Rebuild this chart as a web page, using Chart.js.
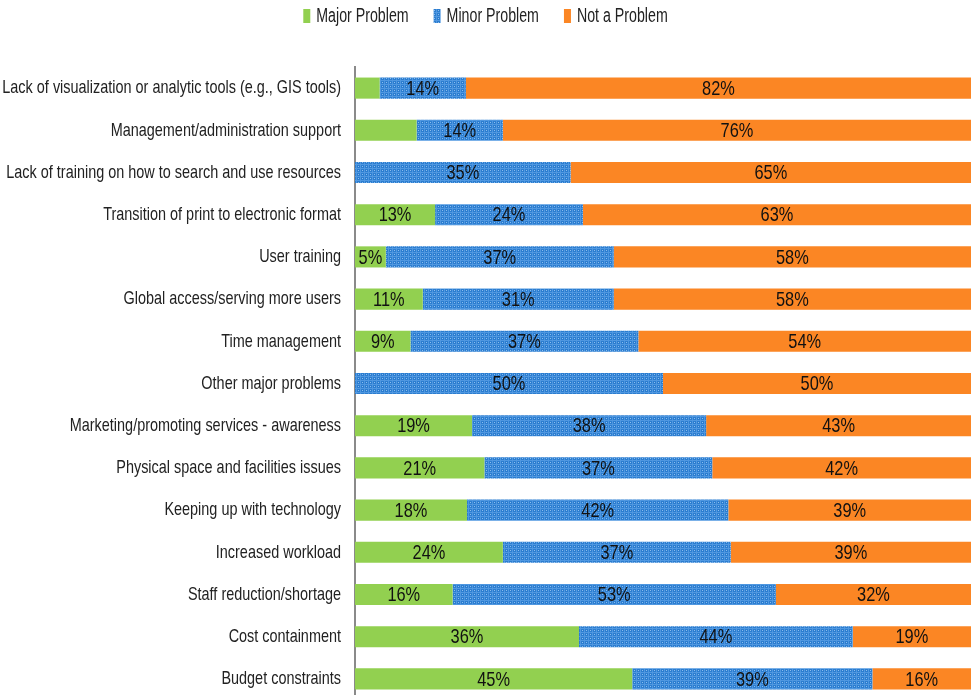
<!DOCTYPE html>
<html>
<head>
<meta charset="utf-8">
<script src="https://cdn.jsdelivr.net/npm/chart.js@4.4.1/dist/chart.umd.min.js"></script>
<style>
    html, body { margin: 0; padding: 0; background: #fff; overflow: hidden; }
    #wrap { width: 971px; height: 710px; }
</style>
</head>
<body>
<div id="wrap"><canvas id="problemsChart" width="971" height="710"></canvas></div>
<script>
// Survey categories, top to bottom
const categories = [
    'Lack of visualization or analytic tools (e.g., GIS tools)',
    'Management/administration support',
    'Lack of training on how to search and use resources',
    'Transition of print to electronic format',
    'User training',
    'Global access/serving more users',
    'Time management',
    'Other major problems',
    'Marketing/promoting services - awareness',
    'Physical space and facilities issues',
    'Keeping up with technology',
    'Increased workload',
    'Staff reduction/shortage',
    'Cost containment',
    'Budget constraints'
];

// Percentages per response
const majorProblem = [4, 10, 0, 13, 5, 11, 9, 0, 19, 21, 18, 24, 16, 36, 45];
const minorProblem = [14, 14, 35, 24, 37, 31, 37, 50, 38, 37, 42, 37, 53, 44, 39];
const notAProblem  = [82, 76, 65, 63, 58, 58, 54, 50, 43, 42, 39, 39, 32, 19, 16];

const seriesNames = ['Major Problem', 'Minor Problem', 'Not a Problem'];

// Segments that carry no value label
const unlabeledMajor = [0, 1];

const FONT = "'Liberation Sans Narrow', 'Arial Narrow', sans-serif";

// Rounded survey shares don't always add to 100, so each row is scaled to fill the bar
const rowTotals = categories.map((_, i) => majorProblem[i] + minorProblem[i] + notAProblem[i]);
const asShare = arr => arr.map((v, i) => v / rowTotals[i] * 100);

// Blue grid-textured fill for the "Minor Problem" series
function makeGridPattern() {
    const c = document.createElement('canvas');
    c.width = 4;
    c.height = 4;
    const g = c.getContext('2d');
    g.fillStyle = '#2b7dd0';
    g.fillRect(0, 0, 4, 4);
    g.fillStyle = '#4f97e0';
    g.fillRect(0, 0, 4, 1);
    g.fillRect(0, 0, 1, 4);
    g.fillStyle = '#8cbdec';
    g.fillRect(2, 2, 1, 1);
    return g.createPattern(c, 'repeat');
}

const colors = ['#92d050', makeGridPattern(), '#fb8624'];

// Condensed text: draw with a horizontal squeeze
function squeezedText(ctx, text, x, y, align, sx) {
    ctx.save();
    ctx.translate(x, y);
    ctx.scale(sx, 1);
    ctx.textAlign = align;
    ctx.fillText(text, 0, 0);
    ctx.restore();
}

// Value labels centred on each segment
const segmentLabels = {
    id: 'segmentLabels',
    afterDatasetsDraw(chart) {
        const ctx = chart.ctx;
        ctx.save();
        ctx.font = '21px ' + FONT;
        ctx.fillStyle = '#111';
        ctx.textBaseline = 'middle';
        chart.data.datasets.forEach((ds, di) => {
            const meta = chart.getDatasetMeta(di);
            meta.data.forEach((bar, i) => {
                const v = ds.raw[i];
                if (!v) return;
                if (di === 0 && unlabeledMajor.includes(i)) return;
                squeezedText(ctx, v + '%', (bar.x + bar.base) / 2, bar.y + 1, 'center', 0.78);
            });
        });
        ctx.restore();
    }
};

// Category names to the left of the axis
const categoryLabels = {
    id: 'categoryLabels',
    afterDraw(chart) {
        const ctx = chart.ctx;
        const y = chart.scales.y;
        ctx.save();
        ctx.font = '19px ' + FONT;
        ctx.fillStyle = '#222';
        ctx.textBaseline = 'middle';
        chart.data.labels.forEach((label, i) => {
            squeezedText(ctx, label, 341, y.getPixelForValue(i), 'right', 0.76);
        });
        ctx.restore();
    }
};

// Legend row across the top
const topLegend = {
    id: 'topLegend',
    afterDraw(chart) {
        const ctx = chart.ctx;
        const sx = 0.71, box = 7, gapText = 6, gapItem = 25;
        ctx.save();
        ctx.font = '20px ' + FONT;
        ctx.textBaseline = 'middle';
        const widths = seriesNames.map(n => ctx.measureText(n).width * sx);
        const total = widths.reduce((a, w) => a + box + gapText + w, 0) + gapItem * (seriesNames.length - 1);
        let x = (chart.width - total) / 2;
        seriesNames.forEach((name, i) => {
            ctx.fillStyle = colors[i];
            ctx.fillRect(x, 9, box, 14);
            ctx.fillStyle = '#222';
            squeezedText(ctx, name, x + box + gapText, 16, 'left', sx);
            x += box + gapText + widths[i] + gapItem;
        });
        ctx.restore();
    }
};

const ctx = document.getElementById('problemsChart').getContext('2d');
new Chart(ctx, {
    type: 'bar',
    data: {
        labels: categories,
        datasets: [majorProblem, minorProblem, notAProblem].map((arr, i) => ({
            label: seriesNames[i],
            data: asShare(arr),
            raw: arr,
            backgroundColor: colors[i]
        }))
    },
    options: {
        indexAxis: 'y',
        responsive: false,
        animation: false,
        layout: { padding: { top: 67, left: 0, right: 0, bottom: 10 } },
        datasets: {
            bar: { barPercentage: 0.5, categoryPercentage: 1 }
        },
        scales: {
            x: {
                stacked: true,
                display: false,
                min: 0,
                max: 100
            },
            y: {
                stacked: true,
                grid: { display: false },
                border: { display: true, color: '#8a8a8a', width: 2 },
                ticks: { display: false },
                afterFit(scale) { scale.width = 355; }
            }
        },
        plugins: {
            legend: { display: false },
            tooltip: { enabled: false }
        }
    },
    plugins: [segmentLabels, categoryLabels, topLegend]
});
</script>
</body>
</html>
